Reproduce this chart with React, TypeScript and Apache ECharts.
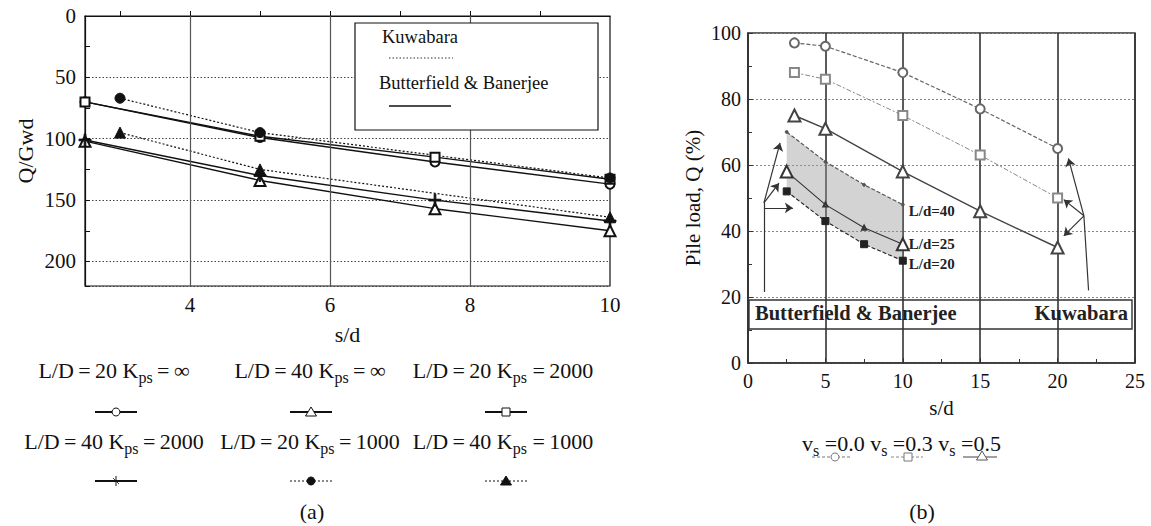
import React, { useEffect, useRef } from "react";
import * as echarts from "echarts";

// ---------- Chart (a) data ----------
const sdA = [2.5, 5, 7.5, 10];
const ld20KInf = [70, 99, 119, 137];
const ld40KInf = [102, 134, 157, 175];
const ld20K2000 = [70, 98, 115, 133];
const ld40K2000 = [101, 130, 150, 167];
const sdA1000 = [3, 5, 10];
const ld20K1000 = [67, 95, 132];
const ld40K1000 = [95, 125, 164];
const xLabelsA = [4, 6, 8, 10];
const xTicksA = [3, 4, 5, 6, 7, 8, 9];
const xGridA = [4, 6, 8];

// ---------- Chart (b) data ----------
const sdB = [3, 5, 10, 15, 20];
const vs00 = [97, 96, 88, 77, 65];
const vs03 = [88, 86, 75, 63, 50];
const vs05 = [75, 71, 58, 46, 35];
const sdBB = [2.5, 5, 7.5, 10];
const bbLd40 = [70, 61, 54, 48];
const bbLd25 = [58, 48, 41, 36];
const bbLd20 = [52, 43, 36, 31];

// annotation arrows in (b), data coordinates
const arrowStems = [
  [[1.03, 21.5], [1.03, 48.5]],
  [[22.0, 22], [21.7, 44.6]],
];
const arrowHeads = [
  [[1.03, 48.5], [2.07, 66.7]],
  [[1.03, 48.5], [2.0, 54.5]],
  [[1.03, 47], [2.9, 47]],
  [[21.7, 44.6], [20.7, 62]],
  [[21.7, 44.6], [20.4, 49.5]],
  [[21.7, 44.6], [20.4, 38.5]],
];

const SERIF = "Liberation Serif";
const T = "\u2009";
const zip = (xs: number[], ys: number[]) => xs.map((x, i) => [x, ys[i]]);
const plusPath = "path://M-0.7,-5H0.7V-0.7H5V0.7H0.7V5H-0.7V0.7H-5V-0.7H-0.7Z";

function marker(kind: string, cx: number, cy: number, color: string, filled: boolean): any {
  const style = { fill: filled ? color : "#fff", stroke: color, lineWidth: 1 };
  if (kind === "circle") return { type: "circle", z: 100, shape: { cx, cy, r: 4 }, style };
  if (kind === "triangle")
    return { type: "polygon", z: 100, shape: { points: [[cx, cy - 5], [cx - 5.5, cy + 4], [cx + 5.5, cy + 4]] }, style };
  if (kind === "rect") return { type: "rect", z: 100, shape: { x: cx - 4, y: cy - 4, width: 8, height: 8 }, style };
  return {
    type: "group",
    z: 100,
    children: [
      { type: "line", z: 100, shape: { x1: cx, y1: cy - 5, x2: cx, y2: cy + 5 }, style: { stroke: color, lineWidth: 1 } },
      { type: "line", z: 100, shape: { x1: cx - 3, y1: cy - 3, x2: cx + 3, y2: cy + 3 }, style: { stroke: color, lineWidth: 0.8 } },
    ],
  };
}

function keyLine(cx: number, cy: number, half: number, color: string, dash: any, width = 1.6): any {
  return {
    type: "line",
    z: 100,
    shape: { x1: cx - half, y1: cy, x2: cx + half, y2: cy },
    style: { stroke: color, lineWidth: width, lineDash: dash },
  };
}

const subRich = {
  n: { fontSize: 22, fontFamily: SERIF, color: "#111" },
  s: { fontSize: 16, fontFamily: SERIF, color: "#111", verticalAlign: "bottom", padding: [14, 0, 0, 0] },
};

function legendText(label: string, cx: number, cy: number): any {
  return {
    type: "text",
    z: 100,
    x: cx,
    y: cy,
    style: {
      text: label,
      rich: subRich,
      fontSize: 22,
      fontFamily: SERIF,
      fill: "#111",
      align: "center",
      verticalAlign: "middle",
    },
  };
}

const eq = `${T}=${T}`;

export default function App() {
  const ref = useRef<HTMLDivElement>(null);

  useEffect(() => {
    if (!ref.current) return;
    const chart = echarts.init(ref.current, null, { renderer: "svg" });

    const axisFont = { fontFamily: SERIF, color: "#111" };

    const legendA: any[] = [];
    const rowsA = [
      { y: 370, sy: 412, items: [
        { t: `{n|L/D${eq}20 K}{s|ps}{n|${eq}∞}`, x: 114, sx: 116, k: "circle", f: false, dash: null },
        { t: `{n|L/D${eq}40 K}{s|ps}{n|${eq}∞}`, x: 310, sx: 311, k: "triangle", f: false, dash: null },
        { t: `{n|L/D${eq}20 K}{s|ps}{n| =${T}2000}`, x: 503, sx: 506, k: "rect", f: false, dash: null },
      ] },
      { y: 441, sy: 481, items: [
        { t: `{n|L/D${eq}40 K}{s|ps}{n|${eq}2000}`, x: 114, sx: 116, k: "plus", f: false, dash: null },
        { t: `{n|L/D${eq}20 K}{s|ps}{n|${eq}1000}`, x: 310, sx: 311, k: "circle", f: true, dash: [2, 2] },
        { t: `{n|L/D${eq}40 K}{s|ps}{n| =${T}1000}`, x: 503, sx: 506, k: "triangle", f: true, dash: [2, 2] },
      ] },
    ];
    rowsA.forEach((row) => {
      row.items.forEach((it) => {
        legendA.push(legendText(it.t, it.x, row.y));
        legendA.push(keyLine(it.sx, row.sy, 21, "#111", it.dash, it.dash ? 1 : 1.8));
        legendA.push(marker(it.k, it.sx, row.sy, "#111", it.f));
      });
    });

    const graphics: any[] = [
      // legend box (a)
      { type: "rect", z: 99, shape: { x: 355, y: 23, width: 243, height: 107 }, style: { fill: "#fff", stroke: "#111", lineWidth: 1.2 } },
      { type: "text", z: 100, x: 382, y: 37, style: { text: "Kuwabara", fontSize: 18.5, fontFamily: SERIF, fill: "#111", verticalAlign: "middle" } },
      keyLine(421, 58, 32, "#333", [1.5, 2], 1),
      { type: "text", z: 100, x: 379, y: 83, style: { text: "Butterfield & Banerjee", fontSize: 18.5, fontFamily: SERIF, fill: "#111", verticalAlign: "middle" } },
      keyLine(420, 106, 31, "#111", null, 1.5),
      ...legendA,
      { type: "text", z: 100, x: 312, y: 511, style: { text: "(a)", fontSize: 22, fontFamily: SERIF, fill: "#111", align: "center", verticalAlign: "middle" } },
      // box (b)
      { type: "rect", z: 99, shape: { x: 749, y: 300, width: 383, height: 29 }, style: { fill: "none", stroke: "#333", lineWidth: 1.4 } },
      { type: "text", z: 100, x: 755, y: 313, style: { text: "Butterfield & Banerjee", fontSize: 20.5, fontWeight: "bold", fontFamily: SERIF, fill: "#222", verticalAlign: "middle" } },
      { type: "text", z: 100, x: 1128, y: 313, style: { text: "Kuwabara", fontSize: 20.5, fontWeight: "bold", fontFamily: SERIF, fill: "#222", align: "right", verticalAlign: "middle" } },
      // legend (b)
      {
        type: "text", z: 100, x: 802, y: 443,
        style: {
          text: `{n|v}{s|s}{n| =0.0 v}{s|s}{n| =0.3 v}{s|s}{n| =0.5}`,
          rich: subRich, fontSize: 22, fontFamily: SERIF, fill: "#111", verticalAlign: "middle",
        },
      },
      keyLine(831, 457, 19, "#777", [3, 2], 1),
      marker("circle", 835, 457, "#777", false),
      keyLine(907, 457, 16, "#888", [3, 2], 1),
      marker("rect", 908, 457, "#777", false),
      keyLine(980, 457, 17, "#444", null, 1.2),
      marker("triangle", 982, 456, "#555", false),
      { type: "text", z: 100, x: 922, y: 511, style: { text: "(b)", fontSize: 22, fontFamily: SERIF, fill: "#111", align: "center", verticalAlign: "middle" } },
    ];

    const lineA = (data: number[][], symbol: string, size: number, dotted: boolean, extra: any = {}) => ({
      type: "line",
      xAxisIndex: 0,
      yAxisIndex: 0,
      data,
      symbol,
      symbolSize: size,
      z: 3,
      lineStyle: { color: "#111", width: dotted ? 1.2 : 1.4, type: dotted ? [2, 2] : "solid" },
      itemStyle: { color: "#111", borderColor: "#111", borderWidth: 1 },
      ...extra,
    });

    const lineB = (data: number[][], symbol: string, size: any, color: string, type: any, width: number, extra: any = {}) => ({
      type: "line",
      xAxisIndex: 1,
      yAxisIndex: 1,
      data,
      symbol,
      symbolSize: size,
      z: 3,
      lineStyle: { color, width, type },
      itemStyle: { color, borderColor: color, borderWidth: 1 },
      ...extra,
    });

    const endLbl = (text: string, dy: number) => ({
      endLabel: {
        show: true,
        formatter: text,
        distance: 6,
        offset: [0, dy],
        fontSize: 15,
        fontWeight: "bold",
        fontFamily: SERIF,
        color: "#222",
      },
    });

    const option: any = {
      animation: false,
      backgroundColor: "#fff",
      grid: [
        { left: 85, top: 16, width: 525, height: 270, show: true, borderColor: "#111", borderWidth: 1.2, backgroundColor: "transparent" },
        { left: 748, top: 33, width: 387, height: 330, show: true, borderColor: "#333", borderWidth: 1.5, backgroundColor: "transparent" },
      ],
      xAxis: [
        {
          gridIndex: 0, type: "value", min: 2.5, max: 10,
          axisLine: { show: true, lineStyle: { color: "#111", width: 1.2 } },
          axisTick: { show: true, inside: true, length: 5, customValues: xTicksA, lineStyle: { color: "#111" } },
          axisLabel: { customValues: xLabelsA, fontSize: 21, margin: 8, ...axisFont },
          splitLine: { show: false },
          name: "s/d", nameLocation: "middle", nameGap: 37,
          nameTextStyle: { fontSize: 22, ...axisFont },
        },
        {
          gridIndex: 1, type: "value", min: 0, max: 25, interval: 5,
          axisLine: { show: true, lineStyle: { color: "#333", width: 1.5 } },
          axisTick: { show: true, inside: true, length: 5, lineStyle: { color: "#333" } },
          minorTick: { show: true, splitNumber: 2, length: 4, lineStyle: { color: "#333" } },
          axisLabel: { fontSize: 20, margin: 8, ...axisFont },
          splitLine: { show: true, lineStyle: { color: "#333", width: 1.6 } },
          name: "s/d", nameLocation: "middle", nameGap: 34,
          nameTextStyle: { fontSize: 21, ...axisFont },
        },
      ],
      yAxis: [
        {
          gridIndex: 0, type: "value", inverse: true, min: 0, max: 220, interval: 50,
          axisLine: { show: true, lineStyle: { color: "#111", width: 1.2 } },
          axisTick: { show: true, inside: true, length: 5, lineStyle: { color: "#111" } },
          minorTick: { show: true, splitNumber: 2, length: 5, lineStyle: { color: "#111" } },
          axisLabel: { fontSize: 21, margin: 9, formatter: (v: number) => (v % 50 === 0 ? String(v) : ""), ...axisFont },
          splitLine: { show: true, lineStyle: { color: "#444", type: [1.5, 2], width: 1.2 } },
          name: "Q/Gwd", nameLocation: "middle", nameGap: 49, nameRotate: 90,
          nameTextStyle: { fontSize: 22, ...axisFont },
        },
        {
          gridIndex: 1, type: "value", min: 0, max: 100, interval: 20,
          axisLine: { show: true, lineStyle: { color: "#333", width: 1.5 } },
          axisTick: { show: true, inside: true, length: 5, lineStyle: { color: "#333" } },
          minorTick: { show: true, splitNumber: 2, length: 4, lineStyle: { color: "#333" } },
          axisLabel: { fontSize: 20, margin: 7, ...axisFont },
          splitLine: { show: true, lineStyle: { color: "#888", type: [2, 2], width: 1.2 } },
          name: "Pile load, Q (%)", nameLocation: "middle", nameGap: 45, nameRotate: 90,
          nameTextStyle: { fontSize: 21, ...axisFont },
        },
      ],
      series: [
        // ----- (a) -----
        lineA(zip(sdA, ld20KInf), "emptyCircle", 9, false, {
          markLine: {
            silent: true, symbol: "none", label: { show: false },
            lineStyle: { type: "solid", color: "#555", width: 1.2 },
            data: xGridA.map((x) => ({ xAxis: x })),
          },
        }),
        lineA(zip(sdA, ld40KInf), "emptyTriangle", 11, false),
        lineA(zip(sdA, ld20K2000), "emptyRect", 9, false),
        lineA(zip(sdA, ld40K2000), plusPath, 12, false),
        lineA(zip(sdA1000, ld20K1000), "circle", 10, true),
        lineA(zip(sdA1000, ld40K1000), "triangle", 11, true),
        // ----- (b) -----
        {
          type: "custom",
          xAxisIndex: 1,
          yAxisIndex: 1,
          z: 1,
          silent: true,
          data: [[sdBB[0], bbLd40[0]]],
          renderItem: (params: any, api: any) => {
            const up = sdBB.map((x, i) => api.coord([x, bbLd40[i]]));
            const lo = sdBB.map((x, i) => api.coord([x, bbLd20[i]])).reverse();
            return {
              type: "polygon",
              shape: { points: [...up, ...lo] },
              style: { fill: "rgba(150,150,150,0.42)", stroke: "none" },
            };
          },
        },
        lineB(zip(sdB, vs00), "emptyCircle", 9, "#666", [4, 2], 1.2),
        lineB(zip(sdB, vs03), "emptyRect", 9, "#888", [5, 2, 2, 2], 1),
        lineB(zip(sdB, vs05), "emptyTriangle", 12, "#444", "solid", 1.4),
        lineB(zip(sdBB, bbLd40), "circle", 3, "#555", [4, 2], 1.2, endLbl("L/d=40", 6)),
        lineB(zip(sdBB, bbLd25), "emptyTriangle", (v: any, p: any) => (p.dataIndex === 0 || p.dataIndex === 3 ? 12 : 4), "#333", "solid", 1.1, endLbl("L/d=25", 0)),
        lineB(zip(sdBB, bbLd20), "rect", 7, "#222", [4, 2], 1.1, endLbl("L/d=20", 3)),
        {
          type: "lines",
          coordinateSystem: "cartesian2d",
          xAxisIndex: 1,
          yAxisIndex: 1,
          z: 4,
          symbol: ["none", "none"],
          lineStyle: { color: "#333", width: 1.2, curveness: 0, opacity: 1 },
          data: arrowStems.map((c) => ({ coords: c })),
        },
        {
          type: "lines",
          coordinateSystem: "cartesian2d",
          xAxisIndex: 1,
          yAxisIndex: 1,
          z: 4,
          symbol: ["none", "arrow"],
          symbolSize: 8,
          lineStyle: { color: "#333", width: 1.2, curveness: 0, opacity: 1 },
          data: arrowHeads.map((c) => ({ coords: c })),
        },
      ],
      graphic: graphics,
    };

    chart.setOption(option);
    return () => chart.dispose();
  }, []);

  return (
    <div
      ref={ref}
      style={{ position: "absolute", left: 0, top: 0, width: 1151, height: 526, background: "#fff" }}
    />
  );
}
